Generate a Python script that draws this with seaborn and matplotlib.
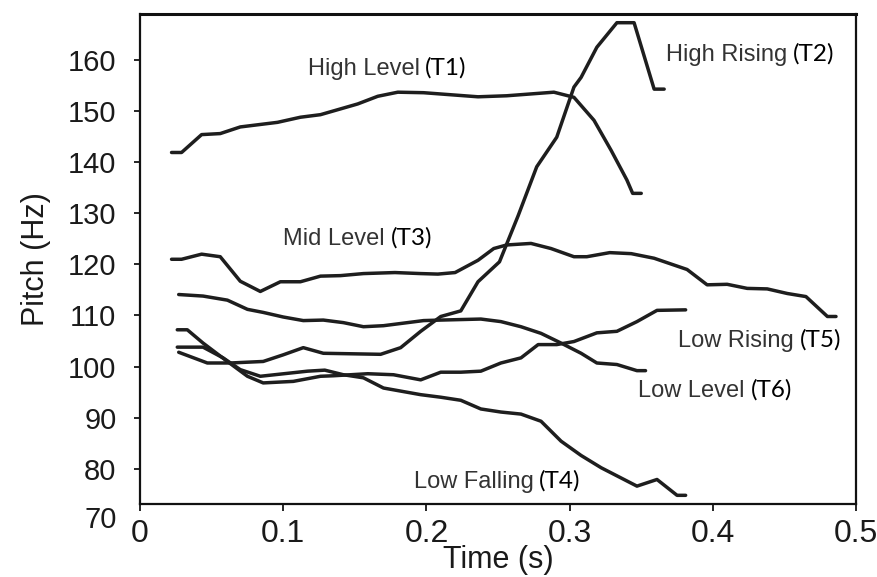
import matplotlib
matplotlib.use("Agg")
import matplotlib.pyplot as plt
import numpy as np
import pandas as pd
import seaborn as sns

# pitch contours (time in s, pitch in Hz)
t1_time = [0.022, 0.029, 0.043, 0.056, 0.070, 0.096, 0.112, 0.126, 0.152, 0.166, 0.180,
           0.198, 0.217, 0.236, 0.256, 0.289, 0.303, 0.317, 0.329, 0.340, 0.344, 0.350]
t1_pitch = [141.9, 141.9, 145.4, 145.6, 146.9, 147.8, 148.8, 149.3, 151.4, 152.9, 153.7,
            153.6, 153.2, 152.8, 153.0, 153.7, 152.7, 148.2, 142.3, 136.5, 133.9, 133.9]

t2_time = [0.027, 0.047, 0.063, 0.086, 0.100, 0.114, 0.128, 0.168, 0.182, 0.196, 0.210,
           0.224, 0.236, 0.251, 0.264, 0.277, 0.291, 0.303, 0.308, 0.319, 0.333, 0.345,
           0.359, 0.366]
t2_pitch = [102.8, 100.7, 100.7, 101.0, 102.3, 103.7, 102.6, 102.4, 103.7, 106.9, 109.8,
            110.9, 116.6, 120.5, 129.5, 139.1, 144.9, 154.7, 156.6, 162.5, 167.3, 167.3,
            154.3, 154.3]

t3_time = [0.022, 0.029, 0.043, 0.056, 0.070, 0.084, 0.098, 0.112, 0.126, 0.140, 0.156,
           0.178, 0.196, 0.208, 0.220, 0.236, 0.247, 0.256, 0.273, 0.287, 0.303, 0.312,
           0.328, 0.343, 0.359, 0.382, 0.396, 0.410, 0.424, 0.438, 0.452, 0.465, 0.480,
           0.486]
t3_pitch = [121.0, 121.0, 122.0, 121.5, 116.7, 114.7, 116.6, 116.6, 117.7, 117.8, 118.2,
            118.4, 118.2, 118.1, 118.4, 120.8, 123.1, 123.8, 124.1, 123.1, 121.5, 121.5,
            122.3, 122.1, 121.2, 119.0, 116.0, 116.1, 115.3, 115.2, 114.3, 113.7, 109.8,
            109.8]

t4_time = [0.026, 0.044, 0.058, 0.070, 0.084, 0.117, 0.129, 0.142, 0.156, 0.170, 0.196,
           0.210, 0.224, 0.238, 0.252, 0.266, 0.280, 0.294, 0.308, 0.322, 0.347, 0.361,
           0.375, 0.381]
t4_pitch = [103.8, 103.8, 101.7, 99.4, 98.1, 99.1, 99.3, 98.4, 97.8, 95.8, 94.5,
            94.0, 93.4, 91.7, 91.1, 90.7, 89.3, 85.4, 82.6, 80.2, 76.6, 77.9,
            74.8, 74.8]

t5_time = [0.026, 0.033, 0.044, 0.061, 0.075, 0.086, 0.107, 0.126, 0.135, 0.159, 0.177,
           0.196, 0.210, 0.224, 0.238, 0.252, 0.266, 0.278, 0.291, 0.303, 0.319, 0.333,
           0.347, 0.361, 0.381]
t5_pitch = [107.2, 107.2, 104.6, 101.0, 98.1, 96.8, 97.1, 98.1, 98.2, 98.6, 98.4,
            97.4, 98.9, 98.9, 99.1, 100.7, 101.7, 104.3, 104.3, 104.9, 106.6, 106.9,
            108.8, 111.0, 111.1]

t6_time = [0.027, 0.044, 0.061, 0.075, 0.086, 0.100, 0.114, 0.128, 0.142, 0.156, 0.170,
           0.184, 0.198, 0.210, 0.238, 0.252, 0.266, 0.280, 0.294, 0.308, 0.319, 0.333,
           0.347, 0.353]
t6_pitch = [114.1, 113.8, 113.0, 111.2, 110.6, 109.7, 109.0, 109.1, 108.6, 107.8, 108.0,
            108.5, 109.0, 109.1, 109.3, 108.8, 107.8, 106.5, 104.6, 102.6, 100.7, 100.4,
            99.2, 99.2]

tones = ["T1", "T2", "T3", "T4", "T5", "T6"]
tone_names = ["High Level", "High Rising", "Mid Level", "Low Falling", "Low Rising", "Low Level"]

x_ticks = [0, 0.1, 0.2, 0.3, 0.4, 0.5]
x_tick_labels = ["0", "0.1", "0.2", "0.3", "0.4", "0.5"]
y_ticks = [80, 90, 100, 110, 120, 130, 140, 150, 160]

# where each tone name sits (left edge, baseline)
label_pos = [(0.117, 157.1), (0.367, 159.8), (0.100, 123.8),
             (0.191, 76.2), (0.376, 103.9), (0.348, 94.1)]


def main():
    frames = []
    for tone, tt, ff in zip(tones,
                            [t1_time, t2_time, t3_time, t4_time, t5_time, t6_time],
                            [t1_pitch, t2_pitch, t3_pitch, t4_pitch, t5_pitch, t6_pitch]):
        frames.append(pd.DataFrame({"tone": tone, "time": tt, "pitch": ff}))
    data = pd.concat(frames, ignore_index=True)

    sns.set_style("ticks")
    plt.rcParams["font.family"] = ["Liberation Sans", "DejaVu Sans"]

    fig = plt.figure(figsize=(8.78, 5.77), dpi=100)
    ax = fig.add_axes([0.1595, 0.1265, 0.8155, 0.8492])

    sns.lineplot(data=data, x="time", y="pitch", units="tone", estimator=None,
                 sort=False, color="#1e1e1e", linewidth=2.5, ax=ax)

    ax.set_xlim(0, 0.5)
    ax.set_ylim(73.1, 169.0)

    for side in ["left", "right", "bottom", "top"]:
        ax.spines[side].set_visible(True)
        ax.spines[side].set_color("#111111")
        ax.spines[side].set_linewidth(1.6)
    ax.spines["top"].set_linewidth(2.2)

    narrow = ["Liberation Sans Narrow", "Liberation Sans", "DejaVu Sans"]

    ax.set_xticks(x_ticks)
    ax.set_xticklabels(x_tick_labels, family=narrow, fontsize=23, color="#1a1a1a")
    ax.set_yticks(y_ticks)
    ax.set_yticklabels([str(v) for v in y_ticks], fontsize=21, color="#1a1a1a")
    ax.tick_params(axis="x", direction="out", length=5, width=1.4, pad=6)
    ax.tick_params(axis="y", direction="out", length=4, width=1.4, pad=13)

    # the 70 label sits below the cropped axis in the original
    ax.annotate("70", xy=(0, 70), xycoords=("axes fraction", "data"),
                xytext=(-17, 0), textcoords="offset points", ha="right", va="center",
                fontsize=21, color="#1a1a1a", annotation_clip=False)

    ax.set_xlabel("Time (s)", family=narrow, fontsize=22, color="#1a1a1a", labelpad=-3)
    ax.set_ylabel("Pitch (Hz)", fontsize=22, color="#1a1a1a", labelpad=12)

    for name, tone, (lx, ly) in zip(tone_names, tones, label_pos):
        txt = ax.text(lx, ly, name, fontsize=17, color="#333333",
                      ha="left", va="baseline")
        ax.annotate("(" + tone + ")", xy=(1, 0), xycoords=txt,
                    xytext=(4, 1), textcoords="offset points",
                    ha="left", va="bottom", fontsize=17.5,
                    family=["Lato", "DejaVu Sans"], color="#000000")

    fig.savefig("out.png", dpi=100)


if __name__ == "__main__":
    main()
